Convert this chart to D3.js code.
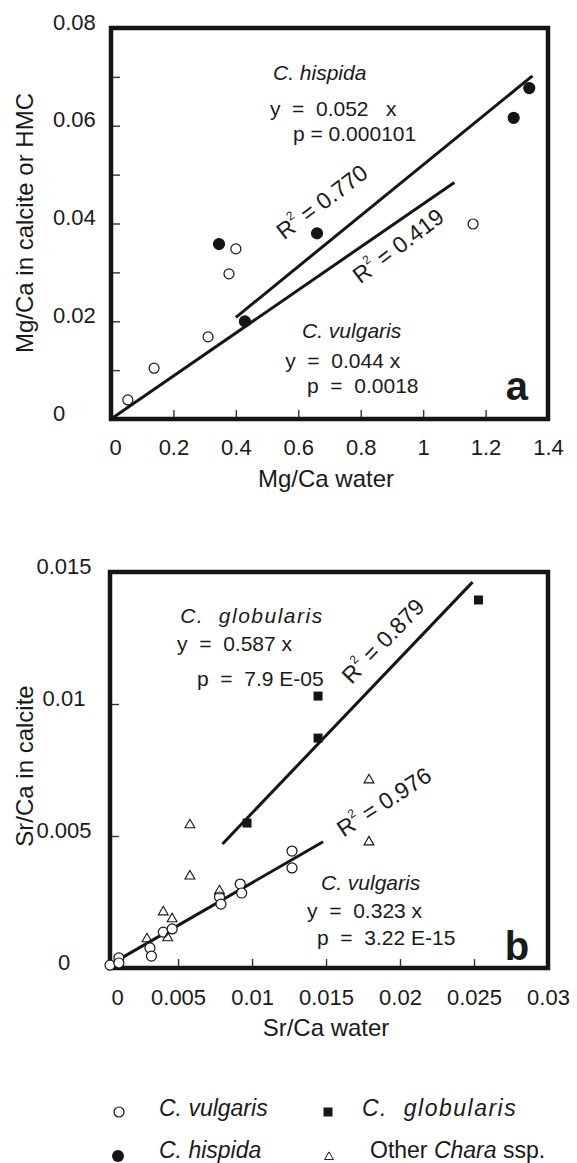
<!DOCTYPE html>
<html>
<head>
<meta charset="utf-8">
<script src="https://cdn.jsdelivr.net/npm/d3@7"></script>
<style>
  body { margin: 0; background: #fff; }
  text { font-family: "Liberation Sans", Arial, Helvetica, sans-serif; fill: #1a1a1a; }
</style>
</head>
<body>
<svg id="chart"></svg>
<script>
const width = 577;
const height = 1163;

// ---- panel a : Mg/Ca ----
const mgVulgaris = [[0.054, 0.0039], [0.138, 0.0104], [0.311, 0.0168], [0.378, 0.0297], [0.40, 0.0348], [1.16, 0.0399]];
const mgHispida = [[0.346, 0.0358], [0.429, 0.0200], [0.66, 0.0380], [1.29, 0.0616], [1.34, 0.0677]];
const mgFits = [
  { slope: 0.052, from: 0.40, to: 1.35 },
  { slope: 0.044, from: 0, to: 1.1 },
];
const mgTicksX = [0.2, 0.4, 0.6, 0.8, 1, 1.2];
const mgLabelsX = [0, 0.2, 0.4, 0.6, 0.8, 1, 1.2, 1.4];
const mgLabelTextX = ["0", "0.2", "0.4", "0.6", "0.8", "1", "1.2", "1.4"];
const mgTicksY = [0.01, 0.02, 0.03, 0.04, 0.05, 0.06, 0.07];
const mgLabelsY = [0, 0.02, 0.04, 0.06, 0.08];
const mgLabelTextY = ["0", "0.02", "0.04", "0.06", "0.08"];

// ---- panel b : Sr/Ca ----
const srVulgaris = [[0.0004, 0.00011], [0.0010, 0.00038], [0.0010, 0.00019], [0.0031, 0.00076], [0.0032, 0.00045],
  [0.0040, 0.00136], [0.0046, 0.00148], [0.0078, 0.00269], [0.0079, 0.00242], [0.0092, 0.00318],
  [0.0093, 0.00284], [0.0127, 0.00443], [0.0127, 0.00379]];
const srGlobularis = [[0.00966, 0.00549], [0.01446, 0.00871], [0.01446, 0.0103], [0.0253, 0.01394]];
const srOther = [[0.0058, 0.00542], [0.0058, 0.00348], [0.0078, 0.00292], [0.0040, 0.00212], [0.0046, 0.00186],
  [0.0043, 0.00114], [0.0029, 0.0011], [0.0179, 0.00712], [0.0179, 0.00477]];
const srFits = [
  { slope: 0.587, from: 0.008, to: 0.0249 },
  { slope: 0.323, from: 0.0004, to: 0.0148 },
];
const srTicksX = [0.005, 0.01, 0.015, 0.02, 0.025];
const srLabelsX = [0, 0.005, 0.01, 0.015, 0.02, 0.025, 0.03];
const srLabelTextX = ["0", "0.005", "0.01", "0.015", "0.02", "0.025", "0.03"];
const srTicksY = [0.005, 0.01];
const srLabelsY = [0, 0.005, 0.01, 0.015];
const srLabelTextY = ["0", "0.005", "0.01", "0.015"];

const svg = d3.select("#chart").attr("width", width).attr("height", height);

const xA = d3.scaleLinear().domain([0, 1.4]).range([111, 548]);
const yA = d3.scaleLinear().domain([0, 0.08]).range([419, 28]);
const xB = d3.scaleLinear().domain([0.0004, 0.03]).range([110, 548]);
const yB = d3.scaleLinear().domain([0, 0.015]).range([968, 572]);

const ink = "#151515";

function drawAxes(x, y, ticksX, labelsX, textX, ticksY, labelsY, textY, yLabelX, yAnchor, pad, zeroShift) {
  const x0 = x.range()[0], x1 = x.range()[1];
  const y0 = y.range()[0], y1 = y.range()[1];

  // inner ticks
  const tx = svg.append("g").attr("transform", "translate(0," + y0 + ")")
    .call(d3.axisTop(x).tickValues(ticksX).tickSize(9).tickFormat(""));
  const ty = svg.append("g").attr("transform", "translate(" + x0 + ",0)")
    .call(d3.axisRight(y).tickValues(ticksY).tickSize(9).tickFormat(""));
  [tx, ty].forEach(function (g) {
    g.select(".domain").remove();
    g.selectAll("line").attr("stroke", "#333").attr("stroke-width", 1.4);
  });

  // labels
  const lx = svg.append("g").attr("transform", "translate(0," + y0 + ")")
    .call(d3.axisBottom(x).tickValues(labelsX).tickSize(0).tickPadding(pad)
      .tickFormat(function (d, i) { return textX[i]; }));
  const ly = svg.append("g")
    .call(d3.axisLeft(y).tickValues(labelsY).tickSize(0)
      .tickFormat(function (d, i) { return textY[i]; }));
  [lx, ly].forEach(function (g) {
    g.select(".domain").remove();
    g.attr("font-family", null).attr("font-size", 22);
    g.selectAll("text").attr("fill", "#1a1a1a");
  });
  lx.selectAll("text").filter(function (d) { return d === 0; }).attr("dx", zeroShift);
  ly.selectAll("text").attr("x", yLabelX).attr("y", -6).attr("text-anchor", yAnchor);

  // frame
  svg.append("rect")
    .attr("x", x0).attr("y", y1)
    .attr("width", x1 - x0).attr("height", y0 - y1)
    .attr("fill", "none").attr("stroke", ink).attr("stroke-width", 4.5);
}

function drawFits(x, y, fits) {
  svg.append("g").selectAll("line").data(fits).join("line")
    .attr("x1", function (d) { return x(d.from); })
    .attr("y1", function (d) { return y(d.slope * d.from); })
    .attr("x2", function (d) { return x(d.to); })
    .attr("y2", function (d) { return y(d.slope * d.to); })
    .attr("stroke", ink).attr("stroke-width", 3);
}

function drawCircles(x, y, data, filled) {
  svg.append("g").selectAll("circle").data(data).join("circle")
    .attr("cx", function (d) { return x(d[0]); })
    .attr("cy", function (d) { return y(d[1]); })
    .attr("r", filled ? 5.5 : 5)
    .attr("fill", filled ? ink : "#fff")
    .attr("stroke", ink).attr("stroke-width", 1.2);
}

function drawSymbols(x, y, data, type, size, filled) {
  svg.append("g").selectAll("path").data(data).join("path")
    .attr("d", d3.symbol().type(type).size(size))
    .attr("transform", function (d) { return "translate(" + x(d[0]) + "," + y(d[1]) + ")"; })
    .attr("fill", filled ? ink : "none")
    .attr("stroke", ink).attr("stroke-width", filled ? 0 : 1.1);
}

function note(x, y, dx, dy, parts, opts) {
  opts = opts || {};
  const t = svg.append("text")
    .attr("x", x(dx)).attr("y", y(dy))
    .attr("font-size", opts.size || 21)
    .attr("text-anchor", opts.anchor || "start")
    .attr("font-weight", opts.bold ? "bold" : null)
    .attr("letter-spacing", opts.spacing || null)
    .attr("xml:space", "preserve");
  parts.forEach(function (p) {
    t.append("tspan").attr("font-style", p.italic ? "italic" : null).text(p.t);
  });
}

function rsq(x, y, dx, dy, angle, value) {
  const t = svg.append("text")
    .attr("transform", "translate(" + x(dx) + "," + y(dy) + ") rotate(" + angle + ")")
    .attr("text-anchor", "middle").attr("dominant-baseline", "central")
    .attr("font-size", 23);
  t.append("tspan").text("R");
  t.append("tspan").attr("font-size", 12).attr("dy", -8).text("2");
  t.append("tspan").attr("dy", 8).text(" = " + value);
}

// ---- panel a ----
drawAxes(xA, yA, mgTicksX, mgLabelsX, mgLabelTextX, mgTicksY, mgLabelsY, mgLabelTextY, 53, "start", 20, 4);
drawFits(xA, yA, mgFits);
drawCircles(xA, yA, mgVulgaris, false);
drawCircles(xA, yA, mgHispida, true);

note(xA, yA, 0.519, 0.0694, [{ t: "C. hispida", italic: true }]);
note(xA, yA, 0.509, 0.0620, [{ t: "y  =  0.052   x" }]);
note(xA, yA, 0.583, 0.0569, [{ t: "p = 0.000101" }]);
rsq(xA, yA, 0.676, 0.0444, -37, "0.770");
rsq(xA, yA, 0.92, 0.0354, -37, "0.419");
note(xA, yA, 0.612, 0.0166, [{ t: "C. vulgaris", italic: true }]);
note(xA, yA, 0.558, 0.0104, [{ t: "y  =  0.044 x" }]);
note(xA, yA, 0.628, 0.0053, [{ t: "p  =  0.0018" }]);
note(xA, yA, 1.30, 0.0039, [{ t: "a" }], { size: 40, bold: true, anchor: "middle" });

svg.append("text").attr("x", 326).attr("y", 487).attr("text-anchor", "middle")
  .attr("font-size", 24).text("Mg/Ca water");
svg.append("text").attr("transform", "translate(33,223) rotate(-90)").attr("text-anchor", "middle")
  .attr("font-size", 24).text("Mg/Ca in calcite or HMC");

// ---- panel b ----
drawAxes(xB, yB, srTicksX, srLabelsX, srLabelTextX, srTicksY, srLabelsY, srLabelTextY, 64, "middle", 21, 13);
drawFits(xB, yB, srFits);
drawCircles(xB, yB, srVulgaris, false);
drawSymbols(xB, yB, srOther, d3.symbolTriangle, 42, false);
drawSymbols(xB, yB, srGlobularis, d3.symbolSquare, 81, true);

note(xB, yB, 0.00514, 0.01307, [{ t: "C.  globularis", italic: true }], { spacing: 1.5 });
note(xB, yB, 0.00493, 0.01201, [{ t: "y  =  0.587 x" }]);
note(xB, yB, 0.00628, 0.01068, [{ t: "p  =  7.9 E-05" }]);
rsq(xB, yB, 0.01885, 0.01239, -46, "0.879");
rsq(xB, yB, 0.01892, 0.00629, -33, "0.976");
note(xB, yB, 0.01466, 0.00295, [{ t: "C. vulgaris", italic: true }]);
note(xB, yB, 0.01372, 0.00189, [{ t: "y  =  0.323 x" }]);
note(xB, yB, 0.01439, 0.00087, [{ t: "p  =  3.22 E-15" }]);
note(xB, yB, 0.0279, 0.0003, [{ t: "b" }], { size: 40, bold: true, anchor: "middle" });

svg.append("text").attr("x", 326).attr("y", 1036).attr("text-anchor", "middle")
  .attr("font-size", 24).text("Sr/Ca water");
svg.append("text").attr("transform", "translate(33,766) rotate(-90)").attr("text-anchor", "middle")
  .attr("font-size", 24).text("Sr/Ca in calcite");

// ---- legend ----
const legend = svg.append("g").attr("font-size", 23);
legend.append("circle").attr("cx", 119).attr("cy", 1112).attr("r", 5)
  .attr("fill", "#fff").attr("stroke", ink).attr("stroke-width", 1.2);
legend.append("path").attr("d", d3.symbol().type(d3.symbolSquare).size(81)())
  .attr("transform", "translate(328,1112)").attr("fill", ink);
legend.append("circle").attr("cx", 118).attr("cy", 1156).attr("r", 6).attr("fill", ink);
legend.append("path").attr("d", d3.symbol().type(d3.symbolTriangle).size(34)())
  .attr("transform", "translate(329,1157)").attr("fill", "none").attr("stroke", ink).attr("stroke-width", 1);

legend.append("text").attr("x", 159).attr("y", 1116).attr("font-style", "italic").text("C. vulgaris");
legend.append("text").attr("x", 362).attr("y", 1116).attr("font-style", "italic")
  .attr("letter-spacing", 1.5).attr("xml:space", "preserve").text("C.  globularis");
legend.append("text").attr("x", 159).attr("y", 1158).attr("font-style", "italic").text("C. hispida");
const other = legend.append("text").attr("x", 370).attr("y", 1158);
other.append("tspan").text("Other ");
other.append("tspan").attr("font-style", "italic").text("Chara");
other.append("tspan").text(" ssp.");
</script>
</body>
</html>
